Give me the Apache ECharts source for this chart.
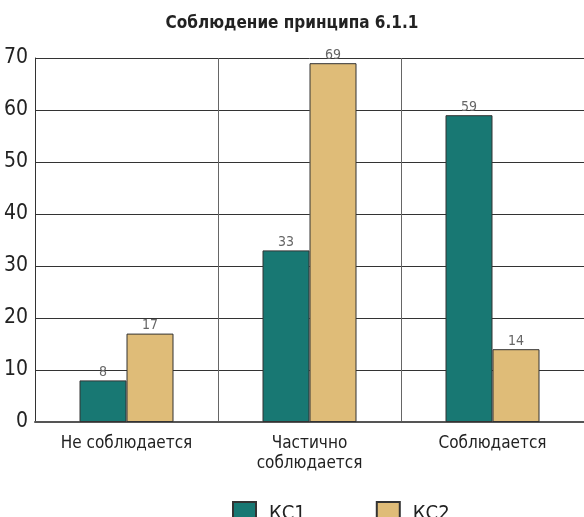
<!DOCTYPE html>
<html>
<head>
    <meta charset="utf-8" />
    <title>Соблюдение принципа 6.1.1</title>
    <script src="https://cdn.jsdelivr.net/npm/echarts@6/dist/echarts.min.js"></script>
    <style>
        html, body { margin: 0; padding: 0; background: #fff; }
        #main { width: 584px; height: 517px; }
    </style>
</head>
<body>
    <div id="main"></div>
    <script>
        var categories = ['Не соблюдается', 'Частично\nсоблюдается', 'Соблюдается'];
        var kc1 = [8, 33, 59];
        var kc2 = [17, 69, 14];
        var yTicks = [0, 10, 20, 30, 40, 50, 60, 70];

        var narrow = '"DejaVu Sans Condensed", "Liberation Sans Narrow", sans-serif';

        var myChart = echarts.init(document.getElementById('main'));
        var option = {
            animation: false,
            title: {
                text: 'Соблюдение принципа 6.1.1',
                left: 'center',
                top: 10,
                textStyle: { fontFamily: narrow, fontWeight: 'bold', fontSize: 17, color: '#222' }
            },
            legend: {
                top: 496,
                left: 227,
                icon: 'rect',
                itemWidth: 23,
                itemHeight: 23,
                itemGap: 70,
                textStyle: { fontFamily: narrow, fontSize: 20, color: '#222', padding: [0, 0, 0, 8] },
                data: ['КС1', 'КС2']
            },
            grid: { left: 35, width: 553, top: 58, bottom: 95 },
            xAxis: {
                type: 'category',
                data: categories,
                axisTick: { show: false },
                axisLine: { lineStyle: { color: '#555', width: 2 } },
                splitLine: { show: true, interval: 0, lineStyle: { color: '#666', width: 1 } },
                axisLabel: { interval: 0, fontFamily: narrow, fontSize: 17, color: '#222', margin: 12, lineHeight: 20 }
            },
            yAxis: {
                type: 'value',
                min: yTicks[0],
                max: yTicks[yTicks.length - 1],
                interval: 10,
                axisLine: { show: true, lineStyle: { color: '#333' } },
                axisTick: { show: false },
                splitLine: { lineStyle: { color: '#333' } },
                axisLabel: { fontFamily: narrow, fontSize: 21, color: '#222', margin: 7 }
            },
            series: [
                {
                    name: 'КС1', type: 'bar', data: kc1, barWidth: 47, barGap: '0%',
                    itemStyle: { color: '#187873', borderColor: '#333', borderWidth: 1 },
                    label: { show: true, position: 'top', distance: 1, fontFamily: narrow, fontSize: 14, color: '#666' }
                },
                {
                    name: 'КС2', type: 'bar', data: kc2, barWidth: 47,
                    itemStyle: { color: '#dfbc78', borderColor: '#333', borderWidth: 1 },
                    label: { show: true, position: 'top', distance: 1, fontFamily: narrow, fontSize: 14, color: '#666' }
                }
            ]
        };
        myChart.setOption(option);
    </script>
</body>
</html>
